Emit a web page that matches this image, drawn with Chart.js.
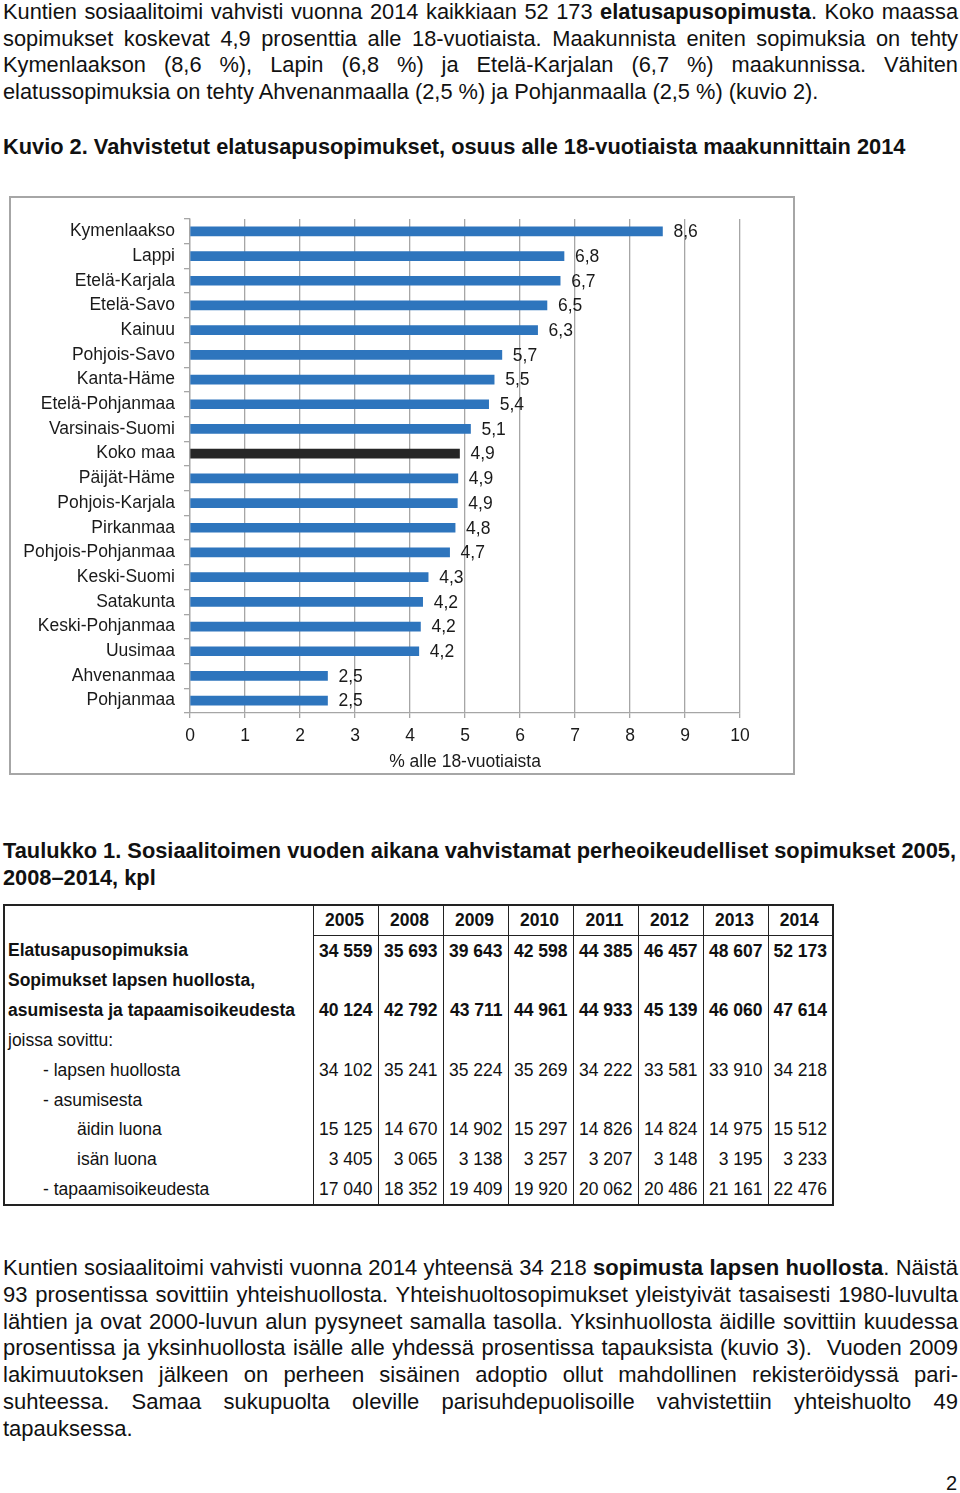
<!DOCTYPE html>
<html lang="fi">
<head>
<meta charset="utf-8">
<title>Kuvio 2</title>
<script src="https://cdn.jsdelivr.net/npm/chart.js"></script>
<style>
  body { margin: 0; width: 960px; height: 1493px; position: relative; background: #fff; color: #111;
         font-family: "Liberation Sans", Arial, sans-serif; }
  .para { position: absolute; left: 3px; width: 955px; font-size: 21.8px; line-height: 26.7px; }
  .para div { white-space: nowrap; text-align: justify; text-align-last: justify; }
  .para div.last { text-align-last: left; }
  .para.tail { font-size: 22px; line-height: 26.8px; }
  h3 { position: absolute; left: 3px; margin: 0; font-size: 21.8px; line-height: 26.5px; }
  #chartBox { position: absolute; left: 9px; top: 196px; width: 786px; height: 579px;
              border: 2px solid #a6a6a6; box-sizing: border-box; }
  #tbl { position: absolute; left: 3px; top: 904px; border-collapse: collapse; table-layout: fixed;
         width: 829px; font-size: 17.5px; border: 2px solid #222; }
  #tbl td { padding: 0 5px 0 3px; height: 29.8px; white-space: nowrap; overflow: visible; }
  #tbl td.num { text-align: right; border-left: 1.5px solid #222; border-right: 1.5px solid #222; }
  #tbl tr.head td.num { text-align: center; font-weight: bold; border-bottom: 1.5px solid #222; height: 28px; }
  #tbl tr.bold td { font-weight: bold; }
  .pageno { position: absolute; left: 946px; top: 1472px; font-size: 20px; }
</style>
</head>
<body>

<div class="para" style="top:-1px">
  <div>Kuntien sosiaalitoimi vahvisti vuonna 2014 kaikkiaan 52 173 <b>elatusapusopimusta</b>. Koko maassa</div>
  <div>sopimukset koskevat 4,9 prosenttia alle 18-vuotiaista. Maakunnista eniten sopimuksia on tehty</div>
  <div>Kymenlaakson (8,6 %), Lapin (6,8 %) ja Etelä-Karjalan (6,7 %) maakunnissa. Vähiten</div>
  <div class="last">elatussopimuksia on tehty Ahvenanmaalla (2,5 %) ja Pohjanmaalla (2,5 %) (kuvio 2).</div>
</div>

<h3 style="top:134px">Kuvio 2. Vahvistetut elatusapusopimukset, osuus alle 18-vuotiaista maakunnittain 2014</h3>

<div id="chartBox"><canvas id="barChart" width="782" height="575"></canvas></div>

<h3 style="top:838px">Taulukko 1. Sosiaalitoimen vuoden aikana vahvistamat perheoikeudelliset sopimukset 2005,<br>2008–2014, kpl</h3>

<table id="tbl"></table>

<div class="para tail" style="top:1255px">
  <div>Kuntien sosiaalitoimi vahvisti vuonna 2014 yhteensä 34 218 <b>sopimusta lapsen huollosta</b>. Näistä</div>
  <div>93 prosentissa sovittiin yhteishuollosta. Yhteishuoltosopimukset yleistyivät tasaisesti 1980-luvulta</div>
  <div>lähtien ja ovat 2000-luvun alun pysyneet samalla tasolla. Yksinhuollosta äidille sovittiin kuudessa</div>
  <div>prosentissa ja yksinhuollosta isälle alle yhdessä prosentissa tapauksista (kuvio 3).&nbsp; Vuoden 2009</div>
  <div>lakimuutoksen jälkeen on perheen sisäinen adoptio ollut mahdollinen rekisteröidyssä pari-</div>
  <div>suhteessa. Samaa sukupuolta oleville parisuhdepuolisoille vahvistettiin yhteishuolto 49</div>
  <div class="last">tapauksessa.</div>
</div>

<div class="pageno">2</div>

<script>
// Kuvio 2 data
var regions = ['Kymenlaakso', 'Lappi', 'Etelä-Karjala', 'Etelä-Savo', 'Kainuu', 'Pohjois-Savo',
    'Kanta-Häme', 'Etelä-Pohjanmaa', 'Varsinais-Suomi', 'Koko maa', 'Päijät-Häme', 'Pohjois-Karjala',
    'Pirkanmaa', 'Pohjois-Pohjanmaa', 'Keski-Suomi', 'Satakunta', 'Keski-Pohjanmaa', 'Uusimaa',
    'Ahvenanmaa', 'Pohjanmaa'];
var shares = [8.59, 6.80, 6.73, 6.49, 6.32, 5.67, 5.53, 5.43, 5.10, 4.90, 4.87, 4.86,
    4.82, 4.72, 4.33, 4.23, 4.19, 4.16, 2.50, 2.50];
var xTicks = [0, 1, 2, 3, 4, 5, 6, 7, 8, 9, 10];

// Taulukko 1 data
var years = ['2005', '2008', '2009', '2010', '2011', '2012', '2013', '2014'];
var elatusapu = ['34 559', '35 693', '39 643', '42 598', '44 385', '46 457', '48 607', '52 173'];
var sopimuksetYht = ['40 124', '42 792', '43 711', '44 961', '44 933', '45 139', '46 060', '47 614'];
var huolto = ['34 102', '35 241', '35 224', '35 269', '34 222', '33 581', '33 910', '34 218'];
var aidinLuona = ['15 125', '14 670', '14 902', '15 297', '14 826', '14 824', '14 975', '15 512'];
var isanLuona = ['3 405', '3 065', '3 138', '3 257', '3 207', '3 148', '3 195', '3 233'];
var tapaaminen = ['17 040', '18 352', '19 409', '19 920', '20 062', '20 486', '21 161', '22 476'];

var chartFont = '"Liberation Sans", Arial, sans-serif';

function buildTable() {
    var rows = [
        { label: '', values: years, cls: 'head' },
        { label: 'Elatusapusopimuksia', values: elatusapu, cls: 'bold' },
        { label: 'Sopimukset lapsen huollosta,', values: null, cls: 'bold' },
        { label: 'asumisesta ja tapaamisoikeudesta', values: sopimuksetYht, cls: 'bold' },
        { label: 'joissa sovittu:', values: null },
        { label: '- lapsen huollosta', values: huolto, indent: 35 },
        { label: '- asumisesta', values: null, indent: 35 },
        { label: 'äidin luona', values: aidinLuona, indent: 69 },
        { label: 'isän luona', values: isanLuona, indent: 69 },
        { label: '- tapaamisoikeudesta', values: tapaaminen, indent: 35 }
    ];
    var html = '<colgroup><col style="width:309px">';
    for (var c = 0; c < years.length; c++) html += '<col style="width:65px">';
    html += '</colgroup>';
    rows.forEach(function(r) {
        html += '<tr' + (r.cls ? ' class="' + r.cls + '"' : '') + '>';
        html += '<td style="padding-left:' + (3 + (r.indent || 0)) + 'px">' + r.label + '</td>';
        for (var i = 0; i < years.length; i++) {
            html += '<td class="num">' + (r.values ? r.values[i] : '') + '</td>';
        }
        html += '</tr>';
    });
    document.getElementById('tbl').innerHTML = html;
}

var valueLabels = {
    id: 'valueLabels',
    afterDatasetsDraw: function(chart) {
        var ctx = chart.ctx;
        var meta = chart.getDatasetMeta(0);
        ctx.save();
        ctx.font = '17.5px ' + chartFont;
        ctx.fillStyle = '#1a1a1a';
        ctx.textAlign = 'left';
        ctx.textBaseline = 'middle';
        meta.data.forEach(function(bar, i) {
            var txt = shares[i].toFixed(1).replace('.', ',');
            ctx.fillText(txt, bar.x + 11, bar.y + 1);
        });
        ctx.restore();
    }
};

window.onload = function() {
    buildTable();

    var barColors = regions.map(function(r) {
        return r === 'Koko maa' ? '#262626' : '#2e75bd';
    });

    var ctx = document.getElementById('barChart').getContext('2d');
    var barChart = new Chart(ctx, {
        type: 'bar',
        data: {
            labels: regions,
            datasets: [{
                data: shares,
                backgroundColor: barColors,
                barThickness: 9
            }]
        },
        options: {
            indexAxis: 'y',
            responsive: false,
            animation: false,
            layout: { padding: { top: 21, right: 53, left: 0, bottom: 0 } },
            plugins: {
                legend: { display: false },
                tooltip: { enabled: false }
            },
            scales: {
                x: {
                    min: 0,
                    max: 10,
                    afterBuildTicks: function(scale) {
                        scale.ticks = xTicks.map(function(v) { return { value: v }; });
                    },
                    afterFit: function(scale) { scale.height = 60; },
                    grid: { color: '#a6a6a6', lineWidth: 1.3, tickLength: 5 },
                    border: { color: '#a6a6a6', width: 1.3 },
                    ticks: {
                        color: '#1a1a1a',
                        padding: 8,
                        font: { family: chartFont, size: 17.5 }
                    },
                    title: {
                        display: true,
                        text: '% alle 18-vuotiaista',
                        color: '#1a1a1a',
                        padding: { top: 0, bottom: 0.5 },
                        font: { family: chartFont, size: 17.5 }
                    }
                },
                y: {
                    afterFit: function(scale) { scale.width = 179; },
                    grid: { drawOnChartArea: false, color: '#a6a6a6', lineWidth: 1.3, tickLength: 6 },
                    border: { color: '#a6a6a6', width: 1.3 },
                    ticks: {
                        color: '#1a1a1a',
                        padding: 9,
                        autoSkip: false,
                        font: { family: chartFont, size: 17.5 }
                    }
                }
            }
        },
        plugins: [valueLabels]
    });
};
</script>
</body>
</html>
